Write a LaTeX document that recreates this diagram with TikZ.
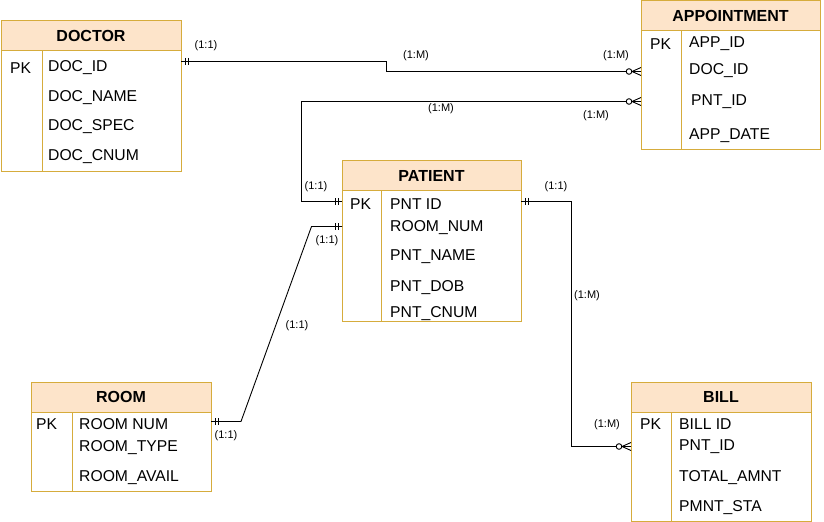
\documentclass[tikz,border=0pt]{standalone}
\usepackage{fontspec}
\setmainfont{Liberation Sans}
\definecolor{entborder}{RGB}{214,172,60}
\definecolor{enthead}{RGB}{253,228,202}
\tikzset{
  entbox/.style={draw=entborder, line width=1bp, fill=white, inner sep=0pt, outer sep=0pt, anchor=north west},
  headbox/.style={draw=entborder, line width=1bp, fill=enthead, inner sep=0pt, outer sep=0pt, anchor=north west, font=\fontsize{16bp}{18bp}\selectfont\bfseries},
  entline/.style={draw=entborder, line width=1bp},
  fld/.style={anchor=west, inner sep=0pt, yshift=-1bp, font=\fontsize{15.7bp}{18bp}\selectfont},
  lbl/.style={inner sep=0pt, font=\fontsize{11bp}{13bp}\selectfont},
  conn/.style={draw=black, line width=0.9bp},
  oneone/.pic={\draw[conn] (4,-3.5) -- (4,3.5) (7,-3.5) -- (7,3.5);},
  zmany/.pic={\draw[conn] (0,-4) -- (9,0) -- (0,4); \draw[conn] (0,0) -- (9,0); \draw[conn, fill=white] (12,0) circle (2.8);}
}
\begin{document}
\begin{tikzpicture}[x=1bp,y=-1bp]
\useasboundingbox (0,0) rectangle (824,522);

% DOCTOR
\node[entbox, minimum width=180bp, minimum height=150bp] (doctor) at (1,21) {};
\node[headbox, minimum width=180bp, minimum height=30bp] (doctorhead) at (doctor.north west) {DOCTOR};
\draw[entline] (doctorhead.south -| 42,0) -- (doctor.south -| 42,0);
\node[fld] (docpk) at (10,67) {PK};
\node[fld] (docf1) at (48,67) {DOC\_ID};
\node[fld] (docf2) at (48,97) {DOC\_NAME};
\node[fld] (docf3) at (48,126) {DOC\_SPEC};
\node[fld] (docf4) at (48,156) {DOC\_CNUM};

% APPOINTMENT
\node[entbox, minimum width=179bp, minimum height=149bp] (appt) at (641,1) {};
\node[headbox, minimum width=179bp, minimum height=30bp] (appthead) at (appt.north west) {APPOINTMENT};
\draw[entline] (appthead.south -| 681,0) -- (appt.south -| 681,0);
\node[fld] (apppk) at (650,43) {PK};
\node[fld] (appf1) at (689,43) {APP\_ID};
\node[fld] (appf2) at (689,70) {DOC\_ID};
\node[fld] (appf3) at (691,101) {PNT\_ID};
\node[fld] (appf4) at (689,135) {APP\_DATE};

% PATIENT
\node[entbox, minimum width=179bp, minimum height=160bp] (patient) at (342,161) {};
\node[headbox, minimum width=179bp, minimum height=30bp] (patienthead) at (patient.north west) {PATIENT};
\draw[entline] (patienthead.south -| 381,0) -- (patient.south -| 381,0);
\node[fld] (pntpk) at (350,203) {PK};
\node[fld] (pntf1) at (390,203) {PNT ID};
\node[fld] (pntf2) at (390,227) {ROOM\_NUM};
\node[fld] (pntf3) at (390,256) {PNT\_NAME};
\node[fld] (pntf4) at (390,287) {PNT\_DOB};
\node[fld] (pntf5) at (390,313) {PNT\_CNUM};

% ROOM
\node[entbox, minimum width=180bp, minimum height=109bp] (room) at (31,382) {};
\node[headbox, minimum width=180bp, minimum height=30bp] (roomhead) at (room.north west) {ROOM};
\draw[entline] (roomhead.south -| 72,0) -- (room.south -| 72,0);
\node[fld] (roompk) at (36,423) {PK};
\node[fld] (roomf1) at (79,423) {ROOM NUM};
\node[fld] (roomf2) at (79,447) {ROOM\_TYPE};
\node[fld] (roomf3) at (79,477) {ROOM\_AVAIL};

% BILL
\node[entbox, minimum width=180bp, minimum height=139bp] (bill) at (631,382) {};
\node[headbox, minimum width=180bp, minimum height=30bp] (billhead) at (bill.north west) {BILL};
\draw[entline] (billhead.south -| 671,0) -- (bill.south -| 671,0);
\node[fld] (billpk) at (640,423) {PK};
\node[fld] (billf1) at (679,423) {BILL ID};
\node[fld] (billf2) at (679,446) {PNT\_ID};
\node[fld] (billf3) at (679,477) {TOTAL\_AMNT};
\node[fld] (billf4) at (679,507) {PMNT\_STA};

% connection points
\coordinate (d1) at (doctor.east |- 0,61.5);
\coordinate (a1) at (appt.west |- 0,71.5);
\coordinate (p1) at (patient.west |- 0,201.5);
\coordinate (a2) at (appt.west |- 0,101.5);
\coordinate (r1) at (room.east |- 0,421.5);
\coordinate (p2) at (patient.west |- 0,226.5);
\coordinate (p3) at (patient.east |- 0,201.5);
\coordinate (b1) at (bill.west |- 0,446.5);

% connectors
\draw[conn] (d1) -| (386.5,71.5) -- (a1);
\draw[conn] (p1) -| (301.5,101.5) -- (a2);
\draw[conn] (r1) -- (241,421.5) -- (311.5,226.5) -- (p2);
\draw[conn] (p3) -| (571.5,446.5) -- (b1);

% end marks
\pic at (d1) {oneone};
\pic[rotate=180] at (a1) {zmany};
\pic[rotate=180] at (p1) {oneone};
\pic[rotate=180] at (a2) {zmany};
\pic at (r1) {oneone};
\pic[rotate=180] at (p2) {oneone};
\pic at (p3) {oneone};
\pic[rotate=180] at (b1) {zmany};

% labels
\node[lbl] (l1) at (206,46) {(1:1)};
\node[lbl] (l2) at (416,56) {(1:M)};
\node[lbl] (l3) at (616,56) {(1:M)};
\node[lbl] (l4) at (441,109) {(1:M)};
\node[lbl] (l5) at (596,116) {(1:M)};
\node[lbl] (l6) at (316,187) {(1:1)};
\node[lbl] (l7) at (327,241) {(1:1)};
\node[lbl] (l8) at (297,326) {(1:1)};
\node[lbl] (l9) at (226,436) {(1:1)};
\node[lbl] (l10) at (556,187) {(1:1)};
\node[lbl] (l11) at (587,296) {(1:M)};
\node[lbl] (l12) at (607,425) {(1:M)};
\end{tikzpicture}
\end{document}
